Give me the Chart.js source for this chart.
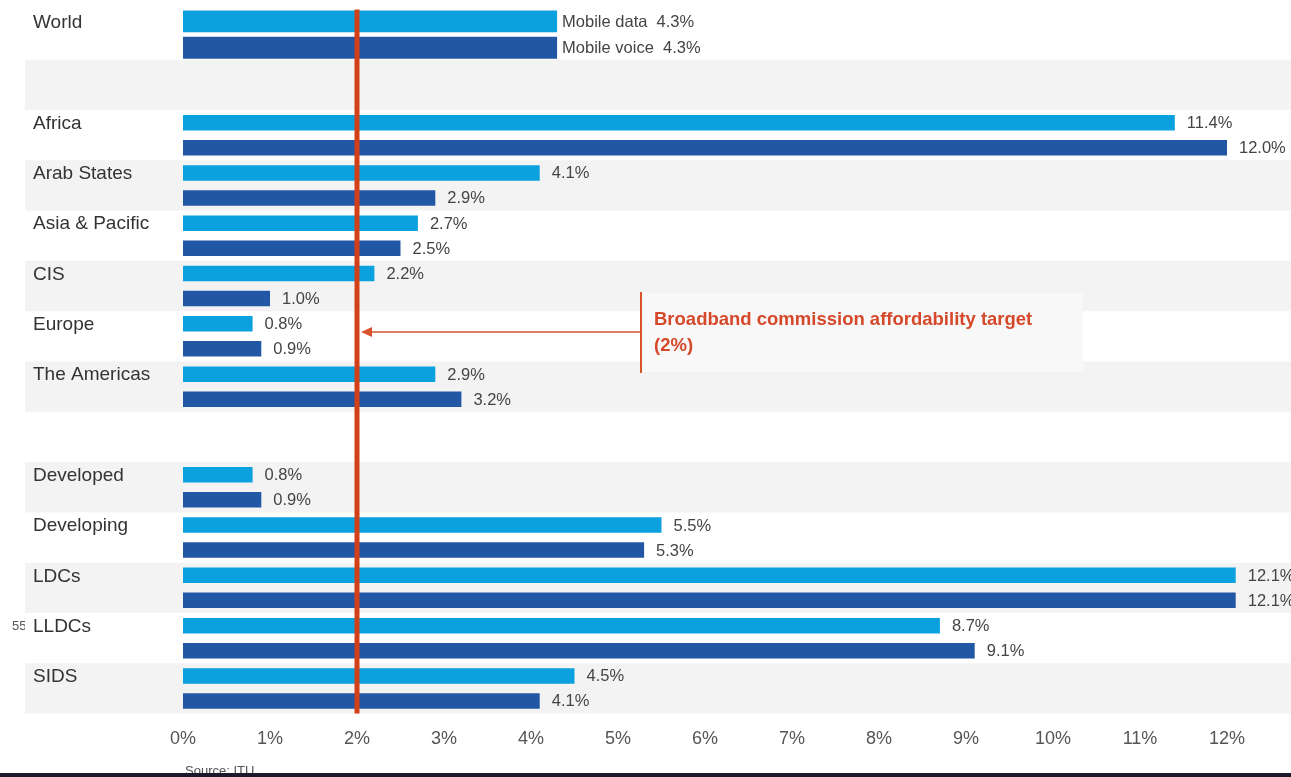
<!DOCTYPE html>
<html><head><meta charset="utf-8">
<script src="https://cdn.jsdelivr.net/npm/chart.js@4/dist/chart.umd.min.js"></script>
<style>html,body{margin:0;padding:0;background:#fff;overflow:hidden}
#wrap{position:relative;width:1291px;height:777px}</style>
</head><body><div id="wrap"><canvas id="c"></canvas></div>
<script>
// ---- data ----
const categories = ['World', '', 'Africa', 'Arab States', 'Asia & Pacific', 'CIS', 'Europe', 'The Americas', '', 'Developed', 'Developing', 'LDCs', 'LLDCs', 'SIDS'];
const seriesNames = ['Mobile data', 'Mobile voice'];
const mobileData  = [4.3, null, 11.4, 4.1, 2.7, 2.2, 0.8, 2.9, null, 0.8, 5.5, 12.1, 8.7, 4.5];
const mobileVoice = [4.3, null, 12.0, 2.9, 2.5, 1.0, 0.9, 3.2, null, 0.9, 5.3, 12.1, 9.1, 4.1];
const tickLabels = ['0%', '1%', '2%', '3%', '4%', '5%', '6%', '7%', '8%', '9%', '10%', '11%', '12%'];
const targetValue = 2;
const targetLabel = ['Broadband commission affordability target', '(2%)'];
const sourceText = 'Source: ITU';

// ---- styles ----
const LIGHT = '#0aa1de', DARK = '#2257a6', RED = '#d2401a', ANN = '#d6482a';
const FONT = '"Liberation Sans", Arial, Helvetica, sans-serif';

const worldOnly = a => a.map((v, i) => i === 0 ? v : null);
const restOnly = a => a.map((v, i) => i === 0 ? null : v);

const common = { skipNull: true, borderWidth: 0 };
const datasets = [
  Object.assign({ label: seriesNames[0], data: restOnly(mobileData), backgroundColor: LIGHT, categoryPercentage: 0.994, barPercentage: 0.62 }, common),
  Object.assign({ label: seriesNames[1], data: restOnly(mobileVoice), backgroundColor: DARK, categoryPercentage: 0.994, barPercentage: 0.62 }, common),
  Object.assign({ label: seriesNames[0], data: worldOnly(mobileData), backgroundColor: LIGHT, categoryPercentage: 1.05, barPercentage: 0.83 }, common),
  Object.assign({ label: seriesNames[1], data: worldOnly(mobileVoice), backgroundColor: DARK, categoryPercentage: 1.05, barPercentage: 0.83 }, common)
];

const decor = {
  id: 'decor',
  beforeDraw(chart) {
    const { ctx } = chart; const y = chart.scales.y;
    ctx.save();
    ctx.fillStyle = '#fff'; ctx.fillRect(0, 0, chart.width, chart.height);
    const half = (y.getPixelForValue(1) - y.getPixelForValue(0)) / 2;
    categories.forEach((c, i) => {
      if (i % 2 === 1) {
        const yc = y.getPixelForValue(i);
        ctx.fillStyle = '#f3f3f3';
        ctx.fillRect(25, yc - half, chart.width - 25, half * 2);
      }
    });
    ctx.restore();
  },
  afterDatasetsDraw(chart) {
    const { ctx, chartArea: ca } = chart; const x = chart.scales.x;
    ctx.save();
    // value labels
    ctx.textBaseline = 'middle'; ctx.textAlign = 'left';
    ctx.font = '16.5px ' + FONT; ctx.fillStyle = '#444';
    chart.data.datasets.forEach((ds, di) => {
      const meta = chart.getDatasetMeta(di);
      ds.data.forEach((v, i) => {
        if (v === null) return;
        const el = meta.data[i];
        const txt = v.toFixed(1) + '%';
        if (di >= 2) ctx.fillText(ds.label + '  ' + txt, el.x + 5, el.y + 1);
        else ctx.fillText(txt, el.x + 12, el.y + 1);
      });
    });
    // category labels
    ctx.font = '19px ' + FONT; ctx.fillStyle = '#333';
    categories.forEach((c, i) => {
      if (!c) return;
      const el = chart.getDatasetMeta(i === 0 ? 2 : 0).data[i];
      ctx.fillText(c, 33, el.y + 1);
    });
    // target line
    const tx = x.getPixelForValue(targetValue);
    ctx.strokeStyle = RED; ctx.lineWidth = 5;
    ctx.beginPath(); ctx.moveTo(tx, ca.top); ctx.lineTo(tx, ca.bottom); ctx.stroke();
    // annotation
    ctx.fillStyle = '#f8f8f8'; ctx.fillRect(640, 293, 443, 79);
    ctx.strokeStyle = '#d9532c'; ctx.lineWidth = 2;
    ctx.beginPath(); ctx.moveTo(641, 292); ctx.lineTo(641, 373); ctx.stroke();
    ctx.lineWidth = 1.5;
    ctx.beginPath(); ctx.moveTo(641, 332); ctx.lineTo(tx + 12, 332); ctx.stroke();
    ctx.fillStyle = '#d9532c';
    ctx.beginPath(); ctx.moveTo(tx + 4, 332); ctx.lineTo(tx + 15, 327); ctx.lineTo(tx + 15, 337); ctx.closePath(); ctx.fill();
    ctx.font = 'bold 18.5px ' + FONT; ctx.fillStyle = ANN;
    ctx.fillText(targetLabel[0], 654, 320);
    ctx.fillText(targetLabel[1], 654, 346);
    // source
    ctx.font = '13px ' + FONT; ctx.fillStyle = '#555';
    ctx.fillText(sourceText, 185, 771);
    // bottom strip
    ctx.fillStyle = '#1b1a2b'; ctx.fillRect(0, 773, chart.width, 4);
    // clipped page number fragment at left edge
    ctx.save(); ctx.beginPath(); ctx.rect(0, 610, 25, 30); ctx.clip();
    ctx.font = '13px ' + FONT; ctx.fillStyle = '#555'; ctx.fillText('55', 12, 626);
    ctx.restore();
    ctx.restore();
  }
};

new Chart(document.getElementById('c'), {
  type: 'bar',
  data: { labels: categories, datasets },
  options: {
    indexAxis: 'y', responsive: true, maintainAspectRatio: false, animation: false,
    layout: { padding: { top: 9.4, left: 183, right: 20.5, bottom: 23.4 } },
    plugins: { legend: { display: false }, tooltip: { enabled: false } },
    scales: {
      y: { type: 'category', display: false, offset: true },
      x: {
        type: 'linear', position: 'bottom', min: 0, max: 12.5,
        grid: { display: false, drawTicks: false }, border: { display: false },
        afterFit: s => { s.height = 40; },
        ticks: {
          stepSize: 1, includeBounds: false, autoSkip: false, maxRotation: 0,
          color: '#555', padding: 15, font: { size: 18, family: FONT },
          callback: v => (Number.isInteger(v) && tickLabels[v] !== undefined) ? tickLabels[v] : ''
        }
      }
    }
  },
  plugins: [decor]
});
</script></body></html>
